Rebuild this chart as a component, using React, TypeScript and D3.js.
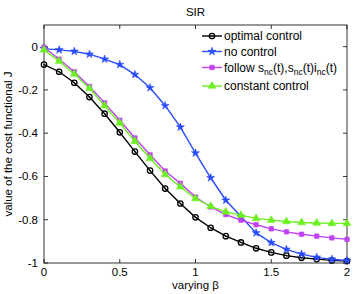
import React from "react";
import * as d3 from "d3";

// beta values on the x axis
const betas = [0, 0.1, 0.2, 0.3, 0.4, 0.5, 0.6, 0.7, 0.8, 0.9, 1, 1.1, 1.2, 1.3, 1.4, 1.5, 1.6, 1.7, 1.8, 1.9, 2];

const optimalControl = [-0.083, -0.116, -0.167, -0.233, -0.31, -0.396, -0.485, -0.573, -0.656, -0.725, -0.789, -0.837, -0.876, -0.905, -0.932, -0.951, -0.966, -0.976, -0.982, -0.988, -0.991];
const noControl = [-0.009, -0.015, -0.022, -0.035, -0.058, -0.083, -0.129, -0.19, -0.273, -0.372, -0.492, -0.606, -0.71, -0.785, -0.861, -0.906, -0.937, -0.959, -0.974, -0.983, -0.989];
const followSnc = [-0.003, -0.058, -0.116, -0.184, -0.26, -0.34, -0.422, -0.5, -0.575, -0.632, -0.695, -0.741, -0.776, -0.802, -0.823, -0.842, -0.856, -0.867, -0.876, -0.884, -0.891];
const constantControl = [-0.015, -0.067, -0.126, -0.193, -0.273, -0.353, -0.437, -0.516, -0.591, -0.648, -0.702, -0.738, -0.764, -0.779, -0.794, -0.802, -0.808, -0.813, -0.815, -0.817, -0.817];

const xTicks = [0, 0.5, 1, 1.5, 2];
const yTicks = [0, -0.2, -0.4, -0.6, -0.8, -1];

const W = 354;
const H = 294;
const left = 44, right = 347, top = 25, bottom = 263;
const font = "'Liberation Sans', Arial, sans-serif";

const series = [
  { name: "optimal", values: optimalControl, color: "#000000", marker: "circle" },
  { name: "none", values: noControl, color: "#2a4cff", marker: "star" },
  { name: "follow", values: followSnc, color: "#c040f5", marker: "square" },
  { name: "constant", values: constantControl, color: "#6cf020", marker: "triangle" },
];

const Marker = ({ type, x, y, color }: { type: string; x: number; y: number; color: string }) => {
  if (type === "circle") {
    return (
      <g>
        <circle cx={x} cy={y} r={2.7} fill="none" stroke={color} strokeWidth={1.3} />
        <circle cx={x} cy={y} r={0.8} fill={color} />
      </g>
    );
  }
  const sym =
    type === "star" ? d3.symbol(d3.symbolStar, 20) :
    type === "square" ? d3.symbol(d3.symbolSquare, 20) :
    d3.symbol(d3.symbolTriangle, 26);
  return <path d={sym() || ""} transform={`translate(${x},${y})`} fill={color} stroke={color} strokeWidth={0.6} />;
};

export default function App() {
  const x = d3.scaleLinear().domain([0, 2]).range([left, right]);
  const y = d3.scaleLinear().domain([-1, 0.1]).range([bottom, top]);
  const line = d3
    .line<number>()
    .x((d, i) => x(betas[i]))
    .y(d => y(d));

  const legendRows = [
    { s: series[0], y: 36, label: <tspan>optimal control</tspan> },
    { s: series[1], y: 51.5, label: <tspan>no control</tspan> },
    {
      s: series[2],
      y: 67.5,
      label: (
        <>
          <tspan>follow s</tspan>
          <tspan fontSize={8.5} dy={3}>nc</tspan>
          <tspan dy={-3}>(t),s</tspan>
          <tspan fontSize={8.5} dy={3}>nc</tspan>
          <tspan dy={-3}>(t)i</tspan>
          <tspan fontSize={8.5} dy={3}>nc</tspan>
          <tspan dy={-3}>(t)</tspan>
        </>
      ),
    },
    { s: series[3], y: 86, label: <tspan>constant control</tspan> },
  ];

  return (
    <svg width={W} height={H} style={{ position: "absolute", left: 0, top: 0, background: "#fff" }} fontFamily={font}>
      <rect x={0} y={0} width={W} height={H} fill="#fff" />
      <text x={(left + right) / 2} y={16} textAnchor="middle" fontSize={11.5}>SIR</text>

      {/* axes box with inward ticks */}
      <rect x={left} y={top} width={right - left} height={bottom - top} fill="none" stroke="#000" strokeWidth={0.8} />
      {xTicks.map(t => (
        <g key={"x" + t}>
          <line x1={x(t)} x2={x(t)} y1={bottom} y2={bottom - 4} stroke="#000" strokeWidth={0.8} />
          <line x1={x(t)} x2={x(t)} y1={top} y2={top + 4} stroke="#000" strokeWidth={0.8} />
          <text x={x(t)} y={276} textAnchor="middle" fontSize={11.5}>{t}</text>
        </g>
      ))}
      {yTicks.map(t => (
        <g key={"y" + t}>
          <line x1={left} x2={left + 4} y1={y(t)} y2={y(t)} stroke="#000" strokeWidth={0.8} />
          <line x1={right} x2={right - 4} y1={y(t)} y2={y(t)} stroke="#000" strokeWidth={0.8} />
          <text x={38} y={y(t) + 4} textAnchor="end" fontSize={11.5}>{String(t)}</text>
        </g>
      ))}
      <text x={(left + right) / 2} y={289} textAnchor="middle" fontSize={11.5}>varying β</text>
      <text transform={`translate(12,${(top + bottom) / 2}) rotate(-90)`} textAnchor="middle" fontSize={11.5}>
        value of the cost functional J
      </text>

      {/* data */}
      {series.map(s => (
        <g key={s.name}>
          <path d={line(s.values) || ""} fill="none" stroke={s.color} strokeWidth={1.4} />
          {s.values.map((v, i) => (
            <Marker key={i} type={s.marker} x={x(betas[i])} y={y(v)} color={s.color} />
          ))}
        </g>
      ))}

      {/* legend */}
      {legendRows.map(r => (
        <g key={r.s.name}>
          <line x1={202} x2={222} y1={r.y} y2={r.y} stroke={r.s.color} strokeWidth={1.4} />
          <Marker type={r.s.marker} x={212} y={r.y} color={r.s.color} />
          <text x={224} y={r.y + 4} fontSize={12}>{r.label}</text>
        </g>
      ))}
    </svg>
  );
}
